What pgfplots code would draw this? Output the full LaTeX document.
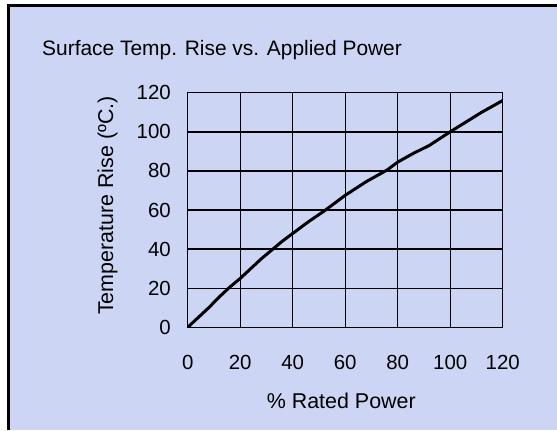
\documentclass[border=0pt]{standalone}
\usepackage{fontspec}
\setmainfont{Liberation Sans}
\usepackage{pgfplots}
\pgfplotsset{compat=1.18}
\definecolor{bgblue}{RGB}{204,214,244}
\begin{document}
\begin{tikzpicture}[x=1bp,y=1bp]
\fill[white] (0,0) rectangle (557,430);
\fill[bgblue] (10,0) rectangle (557,423);
\fill[black] (7,0) rectangle (10,426);
\fill[black] (7,423) rectangle (557,426);
\node[anchor=base west, inner sep=0pt, font=\fontsize{21}{24}\selectfont] at (42,375) {Surface Temp. Rise vs. Applied Power};
\begin{axis}[
  at={(187.7bp,102.7bp)}, anchor=south west,
  width=315bp, height=234.6bp, scale only axis,
  xmin=0, xmax=120, ymin=0, ymax=120,
  xtick={0,20,...,120}, ytick={0,20,...,120},
  grid=major,
  grid style={black, line width=1.4bp},
  axis line style={black, line width=1.4bp},
  major tick length=0pt,
  /pgf/number format/assume math mode=true,
  tick label style={font=\fontsize{20.5}{24}\selectfont},
  xticklabel style={anchor=north, inner sep=0pt, yshift=-28bp},
  yticklabel style={anchor=east, inner sep=0pt, xshift=-16.7bp},
  xlabel={\% Rated Power},
  ylabel={Temperature Rise (ºC.)},
  label style={font=\fontsize{21.5}{24}\selectfont},
  xlabel style={at={(axis description cs:0.4876,-0.345)}, anchor=base, inner sep=0pt},
  ylabel style={at={(axis description cs:-0.254,0.519)}, anchor=center, rotate=0, inner sep=0pt},
]
\addplot[black, line width=3bp, line join=round] coordinates {
(0,0) (4,5) (8,10) (12,15.5) (16,20.5) (20,25) (24,30) (28,35) (32,39.5)
(36,44) (40,48) (46,54) (52,59.5) (60,67.5) (68,74.5) (76,80.5) (80,84.5)
(86,89) (92,93) (96,96.5) (100,100) (106,105) (112,110) (120,116)
};
\end{axis}
\pgfresetboundingbox
\path (0,0) rectangle (557,430);
\end{tikzpicture}
\end{document}
